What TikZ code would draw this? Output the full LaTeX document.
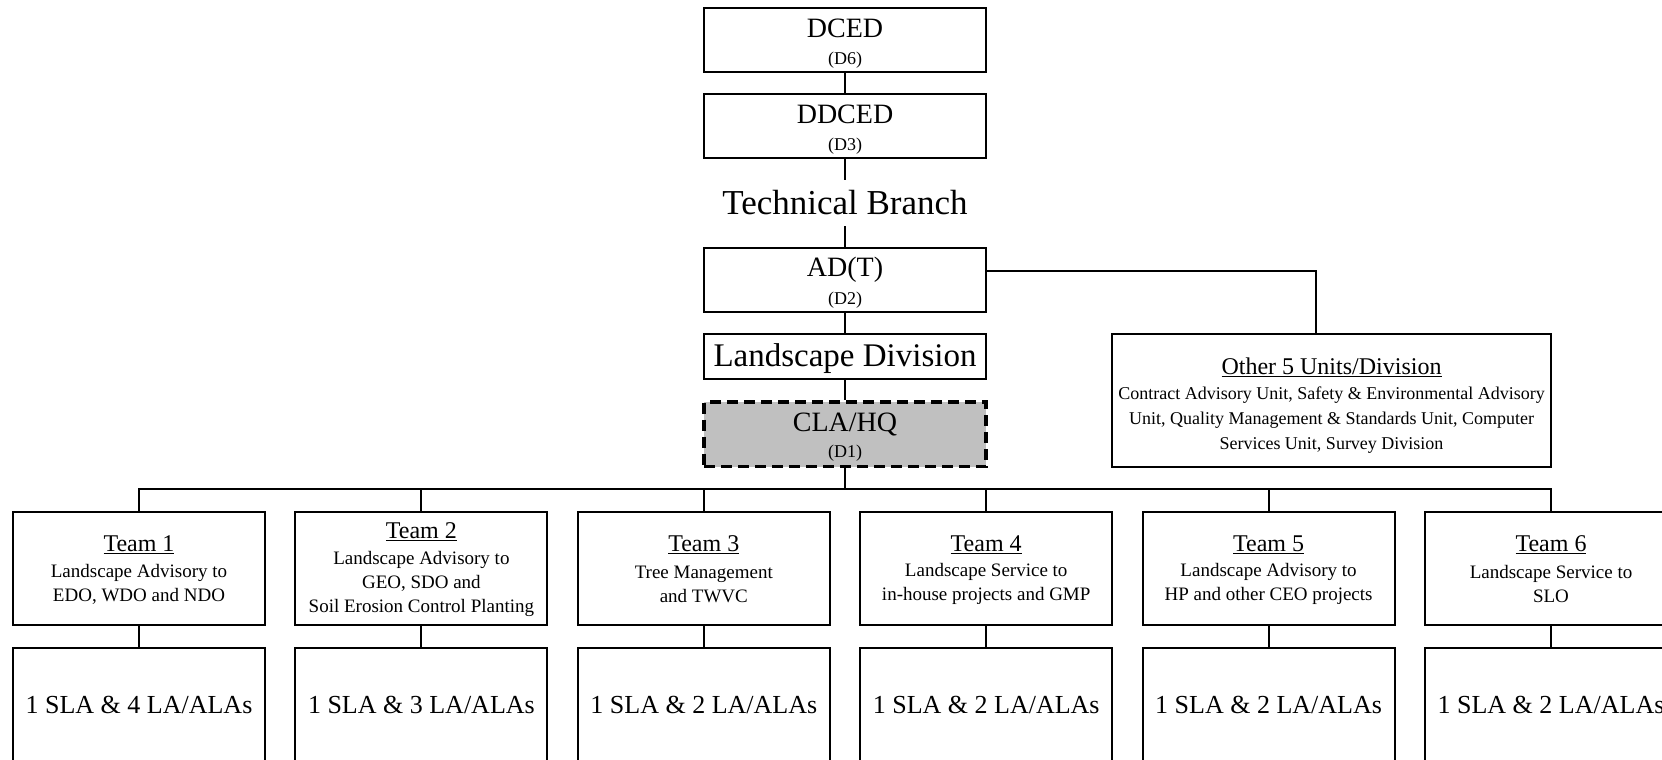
\documentclass[tikz,border=0pt]{standalone}
\usepackage{fontspec}
\setmainfont{Liberation Serif}
\definecolor{clagray}{RGB}{192,192,192}
\begin{document}
\begin{tikzpicture}[x=1pt,y=-1pt,
  conn/.style={line width=2pt},
  mainbox/.style={draw, line width=2pt, minimum width=282pt, minimum height=64pt, inner sep=0pt, fill=white},
  teambox/.style={draw, line width=2pt, minimum width=252pt, minimum height=112.5pt, inner sep=0pt, fill=white},
  staffbox/.style={draw, line width=2pt, minimum width=252pt, minimum height=114pt, inner sep=0pt, fill=white, font=\fontsize{26}{30}\selectfont},
  bigtext/.style={inner sep=0pt, font=\fontsize{28}{32}\selectfont},
  subtext/.style={inner sep=0pt, font=\fontsize{18}{21}\selectfont},
  teamtitle/.style={inner sep=0pt, font=\fontsize{24}{28}\selectfont},
  teamdesc/.style={inner sep=0pt, align=center, font=\fontsize{19}{24}\selectfont},
]
\clip (0,0) rectangle (1662,760);
\fill[white] (0,0) rectangle (1662,760);

% top chain
\node[mainbox] (dced) at (845,40) {};
\node[bigtext] (dcedt) at (845,28.5) {DCED};
\node[subtext] (dceds) at (845,60) {(D6)};

\node[mainbox] (ddced) at (845,126) {};
\node[bigtext] (ddcedt) at (845,114.5) {DDCED};
\node[subtext] (ddceds) at (845,146) {(D3)};

\node[inner sep=0pt, minimum height=46pt, font=\fontsize{35}{40}\selectfont] (tb) at (845,203) {Technical Branch};

\node[mainbox] (adt) at (845,280) {};
\node[bigtext] (adtt) at (845,270) {AD(T)};
\node[subtext] (adts) at (845,300) {(D2)};

\node[mainbox, minimum height=44.5pt] (ld) at (845,356.25) {};
\node[inner sep=0pt, font=\fontsize{33}{38}\selectfont] (ldt) at (845,359) {Landscape Division};

\node[draw, line width=3.5pt, dash pattern=on 11pt off 6pt, fill=clagray, minimum width=282pt, minimum height=64.5pt, inner sep=0pt] (cla) at (845,434.25) {};
\node[bigtext] (clat) at (845,424) {CLA/HQ};
\node[subtext] (clas) at (845,453) {(D1)};

% other units
\node[draw, line width=2pt, minimum width=439pt, minimum height=132.5pt, inner sep=0pt, fill=white] (other) at (1331.5,400.25) {};
\node[teamtitle] (othert) at (1331.5,367) {\underline{Other 5 Units/Division}};
\node[inner sep=0pt, align=center, font=\fontsize{18}{25}\selectfont] (otherd) at (1331.5,420.5) {Contract Advisory Unit, Safety \& Environmental Advisory\\Unit, Quality Management \& Standards Unit, Computer\\Services Unit, Survey Division};

% teams
\node[teambox] (t1) at (139,568.25) {};
\node[teambox] (t2) at (421.4,568.25) {};
\node[teambox] (t3) at (703.8,568.25) {};
\node[teambox] (t4) at (986.2,568.25) {};
\node[teambox] (t5) at (1268.6,568.25) {};
\node[teambox] (t6) at (1551,568.25) {};

\node[teamtitle] (t1t) at (139,545) {\underline{Team 1}};
\node[teamtitle] (t2t) at (421.4,532) {\underline{Team 2}};
\node[teamtitle] (t3t) at (703.8,545) {\underline{Team 3}};
\node[teamtitle] (t4t) at (986.2,545) {\underline{Team 4}};
\node[teamtitle] (t5t) at (1268.6,545) {\underline{Team 5}};
\node[teamtitle] (t6t) at (1551,545) {\underline{Team 6}};

\node[teamdesc] (t1d) at (139,584) {Landscape Advisory to\\EDO, WDO and NDO};
\node[teamdesc] (t2d) at (421.4,584) {Landscape Advisory to\\GEO, SDO and\\Soil Erosion Control Planting};
\node[teamdesc] (t3d) at (703.8,584) {Tree Management\\and TWVC};
\node[teamdesc] (t4d) at (986.2,584) {Landscape Service to\\in-house projects and GMP};
\node[teamdesc] (t5d) at (1268.6,584) {Landscape Advisory to\\HP and other CEO projects};
\node[teamdesc] (t6d) at (1551,584) {Landscape Service to\\SLO};

\node[staffbox] (s1) at (139,705) {1 SLA \& 4 LA/ALAs};
\node[staffbox] (s2) at (421.4,705) {1 SLA \& 3 LA/ALAs};
\node[staffbox] (s3) at (703.8,705) {1 SLA \& 2 LA/ALAs};
\node[staffbox] (s4) at (986.2,705) {1 SLA \& 2 LA/ALAs};
\node[staffbox] (s5) at (1268.6,705) {1 SLA \& 2 LA/ALAs};
\node[staffbox] (s6) at (1551,705) {1 SLA \& 2 LA/ALAs};

% connectors
\draw[conn] (dced.south) -- (ddced.north);
\draw[conn] (ddced.south) -- (tb.north);
\draw[conn] (tb.south) -- (adt.north);
\draw[conn] (adt.south) -- (ld.north);
\draw[conn] (ld.south) -- (cla.north);
\draw[conn] ([yshift=9pt]adt.east) -| ([xshift=-15.5pt]other.north);

\coordinate (bus) at (845,489);
\draw[conn] (cla.south) -- (bus);
\draw[conn] (t1.north) -- (t1.north |- bus) -- (t6.north |- bus) -- (t6.north);
\foreach \i in {2,3,4,5} {
  \draw[conn] (t\i.north) -- (t\i.north |- bus);
}
\foreach \i in {1,2,3,4,5,6} {
  \draw[conn] (t\i.south) -- (s\i.north);
}
\end{tikzpicture}
\end{document}
